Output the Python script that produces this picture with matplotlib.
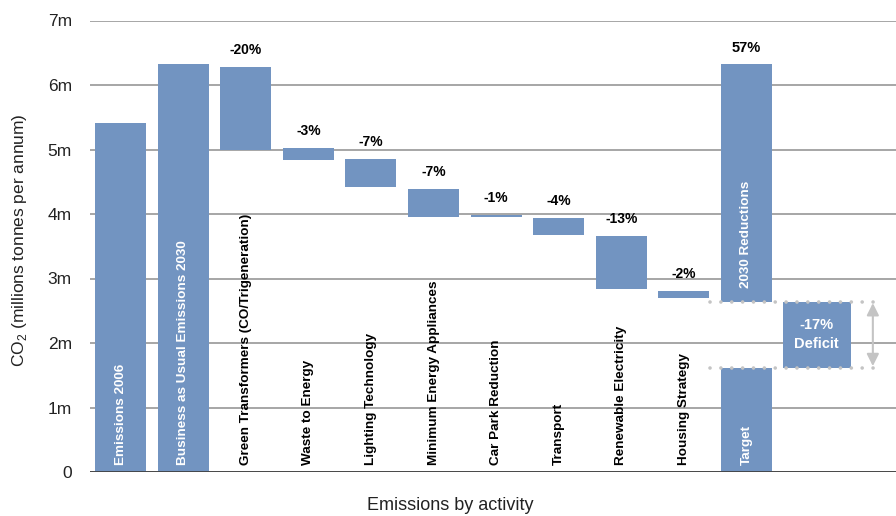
import matplotlib
matplotlib.use("Agg")
import matplotlib.pyplot as plt

plt.rcParams['font.family'] = ['Liberation Sans', 'DejaVu Sans']
plt.rcParams['mathtext.fontset'] = 'custom'
plt.rcParams['mathtext.rm'] = 'Liberation Sans'

# Waterfall steps (millions of tonnes CO2 per annum)
categories = ["Emissions 2006", "Business as Usual Emissions 2030",
              "Green Transformers (CO/Trigeneration)", "Waste to Energy",
              "Lighting Technology", "Minimum Energy Appliances",
              "Car Park Reduction", "Transport", "Renewable Electricity",
              "Housing Strategy"]
bar_bottoms = [0.0, 0.0, 5.00, 4.84, 4.42, 3.96, 3.96, 3.68, 2.83, 2.69]
bar_tops = [5.41, 6.33, 6.28, 5.02, 4.85, 4.39, 3.99, 3.94, 3.66, 2.81]
pct_labels = ["", "", "-20%", "-3%", "-7%", "-7%", "-1%", "-4%", "-13%", "-2%"]

# Summary column: total reductions stacked over the target, with the gap as deficit
reductions_label = "2030 Reductions"
reductions_range = [2.64, 6.32]
reductions_pct = "57%"
target_label = "Target"
target_value = 1.62
deficit_pct = "-17%"
deficit_range = [1.62, 2.64]

y_ticks = [0, 1, 2, 3, 4, 5, 6, 7]
y_tick_labels = ["0", "1m", "2m", "3m", "4m", "5m", "6m", "7m"]

BAR = "#7294c1"
GRID = "#8e8e8e"
DOT = "#c4c4c4"
LABEL_SIZE = 9.7

fig = plt.figure(figsize=(8.96, 5.16), dpi=100)
ax = fig.add_axes([90 / 896, 44 / 516, 806 / 896, 451.5 / 516])
ax.set_xlim(-0.49, 12.39)
ax.set_ylim(0, 7)

width = 0.815
n = len(categories)
white_inside = {0, 1}
for i in range(n):
    ax.bar(i, bar_tops[i] - bar_bottoms[i], bottom=bar_bottoms[i], width=width,
           color=BAR, zorder=3)
    color = "white" if i in white_inside else "black"
    ax.text(i, 0.11, categories[i], rotation=90, ha="center", va="bottom",
            color=color, fontsize=LABEL_SIZE, fontweight="bold", zorder=5)
    if pct_labels[i]:
        ax.annotate(pct_labels[i], (i, bar_tops[i]), xytext=(0, 7),
                    textcoords="offset points", ha="center", va="bottom",
                    fontsize=10, fontweight="bold")

# Summary column
xs = n
ax.bar(xs, reductions_range[1] - reductions_range[0], bottom=reductions_range[0],
       width=width, color=BAR, zorder=3)
ax.bar(xs, target_value, bottom=0, width=width, color=BAR, zorder=3)
ax.text(xs, reductions_range[0] + 0.21, reductions_label, rotation=90, ha="center",
        va="bottom", color="white", fontsize=LABEL_SIZE, fontweight="bold", zorder=5)
ax.text(xs, 0.11, target_label, rotation=90, ha="center", va="bottom",
        color="white", fontsize=LABEL_SIZE, fontweight="bold", zorder=5)
ax.annotate(reductions_pct, (xs, reductions_range[1]), xytext=(0, 7),
            textcoords="offset points", ha="center", va="bottom",
            fontsize=10.5, fontweight="bold")

# Deficit box, dotted guides and span arrow
dx = 11.12
ax.bar(dx, deficit_range[1] - deficit_range[0], bottom=deficit_range[0],
       width=1.086, color=BAR, zorder=3)
ax.text(dx, sum(deficit_range) / 2, deficit_pct + "\nDeficit", ha="center",
        va="center", color="white", fontsize=10.5, fontweight="bold",
        linespacing=1.5, zorder=5)
for yv in deficit_range:
    ax.plot([9.41, 12.15], [yv, yv], color=DOT, lw=2.6,
            linestyle=(0, (0.01, 3.0)), dash_capstyle="round", zorder=4)
ax.annotate("", xy=(12.02, deficit_range[0]), xytext=(12.02, deficit_range[1]),
            arrowprops=dict(arrowstyle="<|-|>", color=DOT, lw=1.5,
                            mutation_scale=18, shrinkA=1, shrinkB=1),
            zorder=4)

# Axes styling
ax.set_yticks(y_ticks)
ax.set_yticklabels(y_tick_labels, fontsize=12.5, color="#222222")
ax.set_xticks([])
ax.tick_params(axis="y", length=0, pad=13)
ax.grid(axis="y", color=GRID, lw=1.1, zorder=0)
ax.set_axisbelow(True)
for s in ax.spines.values():
    s.set_visible(False)
ax.axhline(0, color="#404040", lw=2, zorder=6)

fig.text(20 / 896, 1 - 240 / 516,
         r"CO$_\mathregular{2}$ (millions tonnes per annum)",
         rotation=90, ha="center", va="center", fontsize=12.5, color="#222222")
fig.text(450 / 896, 1 - 505 / 516, "Emissions by activity", ha="center",
         va="center", fontsize=13, color="#222222")

fig.savefig("out.png", dpi=100)
